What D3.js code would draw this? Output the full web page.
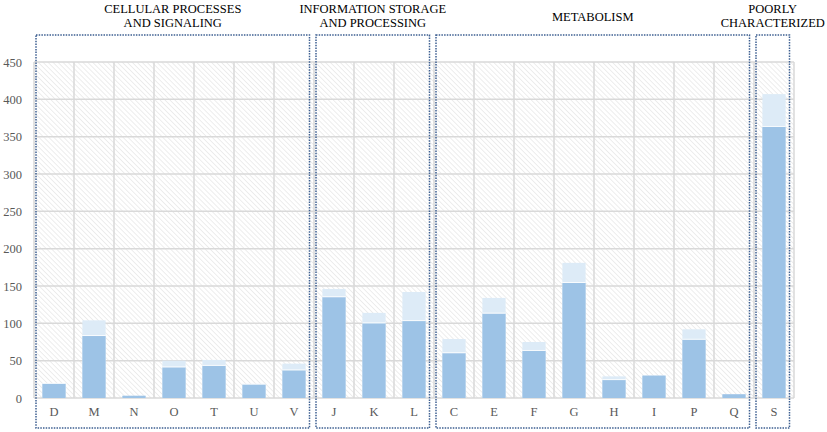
<!DOCTYPE html>
<html>
<head>
<meta charset="utf-8">
<script src="https://cdn.jsdelivr.net/npm/d3@7"></script>
<style>
  html, body { margin: 0; padding: 0; background: #ffffff; }
  svg { display: block; }
  svg text { font-family: "Liberation Serif", "Times New Roman", "DejaVu Serif", serif; }
</style>
</head>
<body>
<svg id="chart" width="827" height="432"></svg>
<script>
// ---- data ----
const categories = ["D","M","N","O","T","U","V","J","K","L","C","E","F","G","H","I","P","Q","S"];
const darkValues  = [19, 83, 3, 41, 43, 18, 37, 135, 100, 103, 60, 113, 63, 154, 24, 30, 78, 5, 363];
const totalValues = [20, 104, 3, 50, 51, 19, 46, 146, 114, 142, 79, 134, 75, 181, 29, 30, 92, 5, 407];
const yTicks = [0, 50, 100, 150, 200, 250, 300, 350, 400, 450];
const groupNames = [["CELLULAR PROCESSES", "AND SIGNALING"], ["INFORMATION STORAGE", "AND PROCESSING"], ["METABOLISM"], ["POORLY", "CHARACTERIZED"]];
const groupFirst = ["D", "J", "C", "S"];
const groupLast  = ["V", "L", "Q", "S"];

// ---- layout ----
const svg = d3.select("#chart");
const plotLeft = 34, plotRight = 794, plotTop = 62, plotBottom = 398;
const font = "Liberation Serif, Times New Roman, DejaVu Serif, serif";

const x = d3.scaleBand().domain(categories).range([plotLeft, plotRight])
  .paddingInner(0.42).paddingOuter(0.21);
const step = x.step();
const bandStart = c => x(c) - step * 0.21;
const y = d3.scaleLinear().domain([0, 450]).range([plotBottom, plotTop]);

// hatch pattern
const defs = svg.append("defs");
const pat = defs.append("pattern").attr("id", "hatch").attr("patternUnits", "userSpaceOnUse")
  .attr("width", 3.5).attr("height", 3.5).attr("patternTransform", "rotate(-45)");
pat.append("rect").attr("width", 3.5).attr("height", 3.5).attr("fill", "#ffffff");
pat.append("line").attr("x1", 0).attr("y1", 0).attr("x2", 0).attr("y2", 3.5)
  .attr("stroke", "#e3e3e3").attr("stroke-width", 1.2);

svg.append("rect").attr("x", plotLeft).attr("y", plotTop)
  .attr("width", plotRight - plotLeft).attr("height", plotBottom - plotTop)
  .attr("fill", "url(#hatch)");

// horizontal gridlines
svg.append("g").selectAll("line").data(yTicks).join("line")
  .attr("x1", plotLeft).attr("x2", plotRight)
  .attr("y1", d => y(d)).attr("y2", d => y(d))
  .attr("stroke", "#d9d9d9").attr("stroke-width", 1.5);

// vertical gridlines at band boundaries
const vLines = categories.map(c => bandStart(c)).concat([plotRight]);
svg.append("g").selectAll("line").data(vLines).join("line")
  .attr("x1", d => d).attr("x2", d => d)
  .attr("y1", plotTop).attr("y2", plotBottom)
  .attr("stroke", "#d9d9d9").attr("stroke-width", 1.5);

// bars: total (light) behind, dark in front
const barG = svg.append("g");
barG.selectAll("rect.total").data(categories).join("rect").attr("class", "total")
  .attr("x", c => x(c)).attr("width", x.bandwidth())
  .attr("y", (c, i) => y(totalValues[i])).attr("height", (c, i) => y(0) - y(totalValues[i]))
  .attr("fill", "#ddebf7");
barG.selectAll("rect.dark").data(categories).join("rect").attr("class", "dark")
  .attr("x", c => x(c)).attr("width", x.bandwidth())
  .attr("y", (c, i) => y(darkValues[i])).attr("height", (c, i) => y(0) - y(darkValues[i]))
  .attr("fill", "#9dc3e6");
barG.selectAll("line.sep").data(categories.filter((c, i) => totalValues[i] > darkValues[i])).join("line")
  .attr("class", "sep")
  .attr("x1", c => x(c)).attr("x2", c => x(c) + x.bandwidth())
  .attr("y1", c => y(darkValues[categories.indexOf(c)]) - 0.5)
  .attr("y2", c => y(darkValues[categories.indexOf(c)]) - 0.5)
  .attr("stroke", "#ffffff").attr("stroke-width", 1).attr("stroke-opacity", 0.8);

// y axis
const yAxis = d3.axisLeft(y).tickValues(yTicks).tickSize(0).tickPadding(12);
const yg = svg.append("g").attr("transform", `translate(${plotLeft},0)`).call(yAxis)
  .attr("font-family", null);
yg.select(".domain").remove();
yg.selectAll("text").style("font-family", font).style("font-size", "12.5px").attr("fill", "#595959");

// x axis
const xAxis = d3.axisBottom(x).tickSize(0).tickPadding(9);
const xg = svg.append("g").attr("transform", `translate(0,${plotBottom})`).call(xAxis)
  .attr("font-family", null);
xg.select(".domain").remove();
xg.selectAll("text").style("font-family", font).style("font-size", "12.5px").attr("fill", "#595959");

// group boxes + headings
const boxTop = 35, boxBottom = 428;
groupFirst.forEach((first, gi) => {
  const last = groupLast[gi];
  const left = bandStart(first) + 2;
  const right = bandStart(last) + step - 4.5;
  svg.append("rect").attr("x", left).attr("y", boxTop)
    .attr("width", right - left).attr("height", boxBottom - boxTop)
    .attr("fill", "none").attr("stroke", "#3d5f91").attr("stroke-width", 1.5)
    .attr("stroke-dasharray", "1.5 1.2");
  const lines = groupNames[gi];
  const cx = (left + right) / 2;
  const t = svg.append("text").attr("text-anchor", "middle")
    .style("font-family", font).style("font-size", "12.5px").attr("fill", "#000000");
  if (lines.length === 1) {
    t.append("tspan").attr("x", cx).attr("y", 20.5).text(lines[0]);
  } else {
    lines.forEach((ln, li) => {
      t.append("tspan").attr("x", cx).attr("y", 12.5 + li * 14.5).text(ln);
    });
  }
});
</script>
</body>
</html>
